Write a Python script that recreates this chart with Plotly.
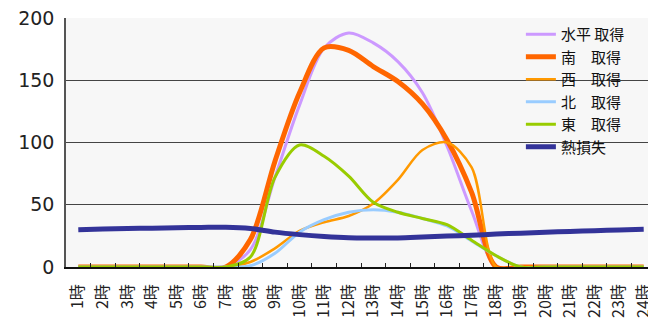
import plotly.graph_objects as go

hours = [f"{i}時" for i in range(1, 25)]

horizontal = [0, 0, 0, 0, 0, 0, 0, 14, 72, 130, 176, 188, 180, 165, 140, 97, 45, 0, 0, 0, 0, 0, 0, 0]
south      = [0, 0, 0, 0, 0, 0, 0, 22, 85, 140, 176, 174, 161, 149, 131, 102, 60, 0, 0, 0, 0, 0, 0, 0]
west       = [0, 0, 0, 0, 0, 0, 0, 4, 15, 29, 36, 41, 51, 70, 94, 100, 80, 0, 0, 0, 0, 0, 0, 0]
north      = [0, 0, 0, 0, 0, 0, 0, 1, 11, 28, 38, 44, 46, 44, 39, 33, 21, 9, 0, 0, 0, 0, 0, 0]
east       = [0, 0, 0, 0, 0, 0, 0, 8, 72, 98, 89, 73, 52, 44, 39, 34, 21.5, 9, 0, 0, 0, 0, 0, 0]
heat_loss  = [30, 30.5, 31, 31.2, 31.5, 31.8, 32, 31, 28, 26, 24.5, 23.5, 23.3, 23.3, 24, 24.8,
              25.5, 26.5, 27.2, 28, 28.6, 29.2, 29.8, 30.4]

names = ["水平 取得", "南　取得", "西　取得", "北　取得", "東　取得", "熱損失"]
series = [horizontal, south, west, north, east, heat_loss]
colors = ["#CC99FF", "#FF6600", "#FF9900", "#99CCFF", "#99CC00", "#333399"]
widths = [3, 5, 2.5, 3, 3, 5]

fig = go.Figure()
for name, ys, c, w in zip(names, series, colors, widths):
    fig.add_trace(go.Scatter(
        x=hours, y=ys, name=name, mode="lines",
        line=dict(color=c, width=w, shape="spline", smoothing=0.9),
        cliponaxis=True,
    ))

# the page body has an 8px margin, so the figure is 8px smaller than the window
fig.update_layout(
    width=648, height=315,
    margin=dict(l=58, r=0, t=10, b=56),
    paper_bgcolor="white",
    plot_bgcolor="#F7F7F7",
    font=dict(family="DejaVu Sans, Noto Sans CJK JP", color="#222"),
    showlegend=True,
    legend=dict(
        x=0.771, y=1.0, xanchor="left", yanchor="top",
        bgcolor="rgba(0,0,0,0)",
        font=dict(size=15, family="Noto Sans CJK JP", color="#111"),
        tracegroupgap=0, itemwidth=30,
    ),
)
fig.update_xaxes(
    type="category",
    range=[-0.5, len(hours) - 0.5],
    tickangle=-90,
    tickfont=dict(size=16, family="Noto Sans CJK JP", color="#222"),
    ticks="inside", tickson="boundaries", ticklen=4, tickcolor="#222",
    showline=True, linecolor="#111", linewidth=1.5,
    showgrid=False, automargin=False,
    ticklabelstandoff=9, ticklabeloverflow="allow",
)
fig.update_yaxes(
    range=[0, 200], tickvals=[0, 50, 100, 150, 200],
    tickfont=dict(size=19, family="DejaVu Sans", color="#222"),
    showline=True, linecolor="#555", linewidth=1.5,
    showgrid=True, gridcolor="#444", gridwidth=1.2,
    zeroline=False, automargin=False,
    ticks="", ticklabelstandoff=6, ticklabeloverflow="allow",
)
fig.write_html("out.html")
